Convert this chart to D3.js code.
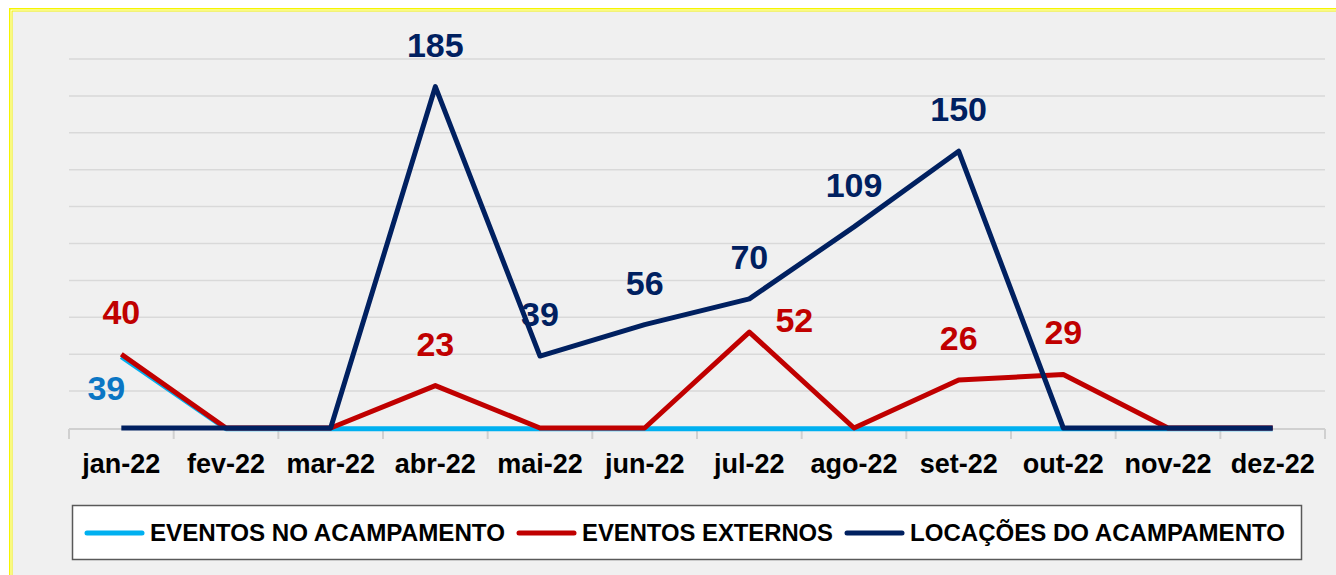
<!DOCTYPE html>
<html lang="pt">
	<head>
		<meta charset="utf-8">
		<title>Eventos e Locações 2022</title>
		<script type="text/javascript" src="https://cdn.jsdelivr.net/npm/d3@7"></script>
		<style type="text/css">
			body { margin: 0; background: #ffffff; }
			svg text { font-family: Arial, "Liberation Sans", sans-serif; font-weight: bold; }
		</style>
	</head>
	<body>
	<script type="text/javascript">

			//Data
			var months = ["jan-22", "fev-22", "mar-22", "abr-22", "mai-22", "jun-22",
			              "jul-22", "ago-22", "set-22", "out-22", "nov-22", "dez-22"];
			var eventosNoAcampamento = [39, 0, 0, 0, 0, 0, 0, 0, 0, 0, 0, 0];
			var eventosExternos      = [40, 0, 0, 23, 0, 0, 52, 0, 26, 29, 0, 0];
			var locacoes             = [0, 0, 0, 185, 39, 56, 70, 109, 150, 0, 0, 0];
			var seriesNames = ["EVENTOS NO ACAMPAMENTO", "EVENTOS EXTERNOS", "LOCAÇÕES DO ACAMPAMENTO"];
			var yTicks = [0, 20, 40, 60, 80, 100, 120, 140, 160, 180, 200];

			//Width and height
			var w = 1336;
			var h = 575;

			var series = [
				{ name: seriesNames[0], values: eventosNoAcampamento, color: "#00b0f0", label: "#0b76c4" },
				{ name: seriesNames[1], values: eventosExternos, color: "#c00000", label: "#c00000" },
				{ name: seriesNames[2], values: locacoes, color: "#002060", label: "#002060" }
			];

			var svg = d3.select("body")
						.append("svg")
						.attr("width", w)
						.attr("height", h);

			//frame: double yellow line, gray plot area
			svg.append("rect").attr("x", 0).attr("y", 0).attr("width", w).attr("height", h).attr("fill", "#ffffff");
			svg.append("rect").attr("x", 9).attr("y", 8).attr("width", w).attr("height", h).attr("fill", "#f5f500");
			svg.append("rect").attr("x", 10.5).attr("y", 9.5).attr("width", w).attr("height", h).attr("fill", "#ffffff");
			svg.append("rect").attr("x", 11.5).attr("y", 10.5).attr("width", w).attr("height", h).attr("fill", "#f5f500");
			svg.append("rect").attr("x", 12.5).attr("y", 11.5).attr("width", w).attr("height", h).attr("fill", "#f0f0f0");

			var xScale = d3.scaleBand()
							.domain(months)
							.range([69, 1325]);

			var yScale = d3.scaleLinear()
							.domain([0, 200])
							.range([428, 59]);

			var cx = function(i) { return xScale(months[i]) + xScale.bandwidth() / 2; };

			//gridlines
			svg.append("g")
				.selectAll("line")
				.data(yTicks.slice(1))
				.enter()
				.append("line")
				.attr("x1", 69)
				.attr("x2", 1325)
				.attr("y1", function(d) { return yScale(d); })
				.attr("y2", function(d) { return yScale(d); })
				.attr("stroke", "#d9d9d9")
				.attr("stroke-width", 1.5);

			//X axis
			var xAxis = d3.axisBottom(xScale).tickSize(0).tickPadding(0);
			var gx = svg.append("g")
				.attr("transform", "translate(0," + yScale(0) + ")")
				.call(xAxis);
			gx.select(".domain").remove();
			gx.selectAll("text")
				.attr("y", 45)
				.attr("dy", null)
				.attr("font-size", "27px")
				.attr("fill", "#000000");

			svg.append("line")
				.attr("x1", 69).attr("x2", 1325)
				.attr("y1", yScale(0) + 1).attr("y2", yScale(0) + 1)
				.attr("stroke", "#d0d0d0").attr("stroke-width", 2);

			var bounds = months.map(function(m) { return xScale(m); }).concat([xScale.range()[1]]);
			svg.append("g")
				.selectAll("line")
				.data(bounds)
				.enter()
				.append("line")
				.attr("x1", function(d) { return d; })
				.attr("x2", function(d) { return d; })
				.attr("y1", yScale(0) + 1)
				.attr("y2", yScale(0) + 11)
				.attr("stroke", "#d0d0d0")
				.attr("stroke-width", 2);

			//lines
			var line = d3.line()
				.x(function(d, i) { return cx(i); })
				.y(function(d) { return yScale(d); });

			svg.append("g")
				.selectAll("path")
				.data(series)
				.enter()
				.append("path")
				.attr("d", function(s) { return line(s.values); })
				//light blue sits a hair lower so it peeks out under the zero runs
				.attr("transform", function(s, k) { return "translate(0," + (k === 0 ? 0.7 : 0) + ")"; })
				.attr("fill", "none")
				.attr("stroke", function(s) { return s.color; })
				.attr("stroke-width", 5)
				.attr("stroke-linejoin", "round");

			//data labels: above the point, except two hand placed ones
			var labelShift = {
				"0-0": [-15, 44],   // 39 light blue, below left
				"1-6": [45, 0]      // 52 red, to the right
			};

			series.forEach(function(s, k) {
				var pts = s.values.map(function(v, i) { return { v: v, i: i }; })
								  .filter(function(p) { return p.v > 0; });
				svg.append("g")
					.selectAll("text")
					.data(pts)
					.enter()
					.append("text")
					.attr("x", function(p) {
						var sh = labelShift[k + "-" + p.i];
						return cx(p.i) + (sh ? sh[0] : 0);
					})
					.attr("y", function(p) {
						var sh = labelShift[k + "-" + p.i];
						return yScale(p.v) + (sh ? sh[1] : -30);
					})
					.attr("text-anchor", "middle")
					.attr("font-size", "34px")
					.attr("fill", s.label)
					.text(function(p) { return p.v; });
			});

			//legend
			var legend = svg.append("g");
			legend.append("rect")
				.attr("x", 72.5).attr("y", 505.5)
				.attr("width", 1229).attr("height", 54)
				.attr("fill", "#ffffff")
				.attr("stroke", "#595959")
				.attr("stroke-width", 1.5);

			var legendX = [85, 517, 845];
			var legendW = [355, 251, 375];
			series.forEach(function(s, k) {
				legend.append("line")
					.attr("x1", legendX[k] + 2).attr("x2", legendX[k] + 57)
					.attr("y1", 533).attr("y2", 533)
					.attr("stroke", s.color)
					.attr("stroke-width", 5)
					.attr("stroke-linecap", "round");
				legend.append("text")
					.attr("x", legendX[k] + 65)
					.attr("y", 541)
					.attr("font-size", "24px")
					.attr("textLength", legendW[k])
					.attr("lengthAdjust", "spacingAndGlyphs")
					.attr("fill", "#000000")
					.text(s.name);
			});

		</script>
	</body>
</html>
